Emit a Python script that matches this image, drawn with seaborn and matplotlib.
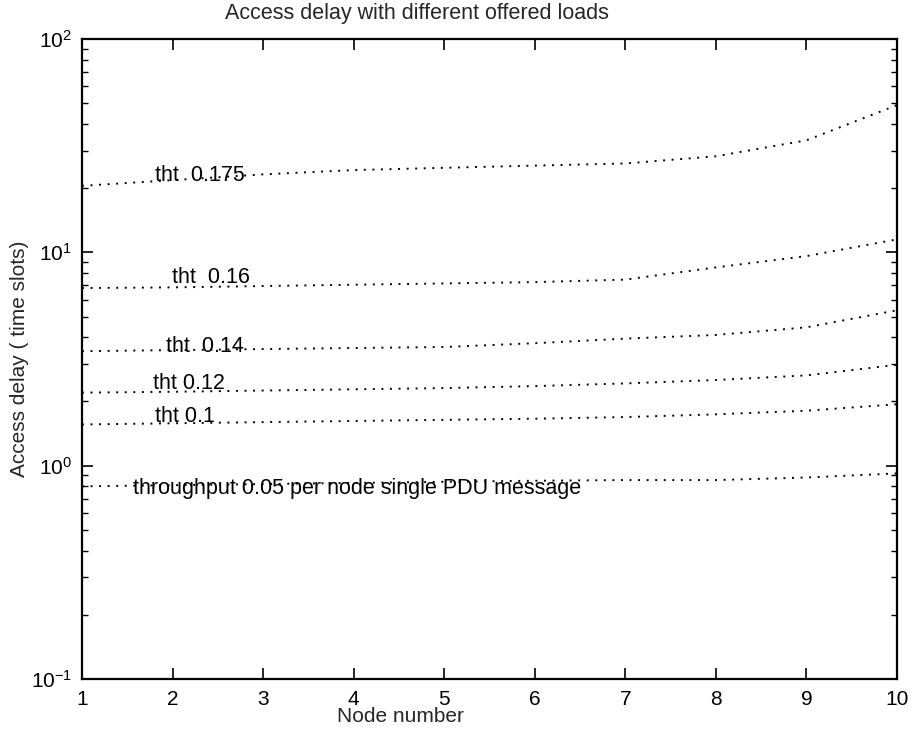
import numpy as np
import pandas as pd
import matplotlib
matplotlib.use('Agg')
import matplotlib.pyplot as plt
import matplotlib.ticker as ticker
import seaborn as sns

nodes = [1, 2, 3, 4, 5, 6, 7, 8, 9, 10]

# access delay (time slots) per offered load
delay_0175 = [20.5, 21.8, 23.2, 24.3, 24.9, 25.5, 26.1, 28.2, 33.5, 49.0]
delay_016 = [6.8, 6.85, 6.95, 7.05, 7.15, 7.25, 7.45, 8.5, 9.6, 11.5]
delay_014 = [3.44, 3.48, 3.52, 3.56, 3.6, 3.75, 3.94, 4.1, 4.45, 5.35]
delay_012 = [2.2, 2.22, 2.25, 2.28, 2.31, 2.36, 2.43, 2.52, 2.65, 2.97]
delay_010 = [1.56, 1.58, 1.6, 1.62, 1.64, 1.66, 1.69, 1.74, 1.81, 1.94]
delay_005 = [0.80, 0.81, 0.82, 0.83, 0.84, 0.85, 0.856, 0.856, 0.88, 0.92]

labels = ['tht  0.175', 'tht  0.16', 'tht  0.14', 'tht 0.12', 'tht 0.1',
          'throughput 0.05 per node single PDU message']
series = [delay_0175, delay_016, delay_014, delay_012, delay_010, delay_005]

# where the in-plot labels sit (x, y in data coords)
label_pos = [(1.81, 23.0), (1.99, 7.6), (1.93, 3.63), (1.78, 2.42), (1.81, 1.70), (1.56, 0.785)]

rows = []
for lab, vals in zip(labels, series):
    for n, v in zip(nodes, vals):
        rows.append({'node': n, 'delay': v, 'load': lab})
df = pd.DataFrame(rows)

sns.set_style('ticks')
plt.rcParams['font.family'] = ['Liberation Sans', 'DejaVu Sans']
plt.rcParams['mathtext.fontset'] = 'custom'
plt.rcParams['mathtext.rm'] = 'Liberation Sans'

fig = plt.figure(figsize=(9.11, 7.30), dpi=100)
ax = fig.add_axes([82 / 911, 1 - 679 / 730, 815 / 911, 640 / 730])

for lab in labels:
    sub = df[df['load'] == lab]
    sns.lineplot(data=sub, x='node', y='delay', ax=ax, color='black',
                 linewidth=1.4, linestyle=(0, (1, 3.4)), legend=False)

for (tx, ty), lab in zip(label_pos, labels):
    ax.text(tx, ty, lab, fontsize=15.5, ha='left', va='center', color='black')

ax.set_yscale('log')
ax.set_xlim(1, 10)
ax.set_ylim(0.1, 100)
ax.xaxis.set_major_locator(ticker.MultipleLocator(1))
ax.yaxis.set_major_locator(ticker.LogLocator(base=10, numticks=10))
ax.yaxis.set_minor_locator(ticker.LogLocator(base=10, subs=np.arange(2, 10), numticks=20))
ax.yaxis.set_minor_formatter(ticker.NullFormatter())

ax.tick_params(which='both', direction='in', top=True, right=True, colors='black')
ax.tick_params(which='major', length=8, width=1.2, labelsize=15)
ax.tick_params(which='minor', length=4, width=1.0)
ax.tick_params(axis='x', pad=8)
ax.tick_params(axis='y', pad=7)
for sp in ax.spines.values():
    sp.set_linewidth(1.6)
    sp.set_color('black')

ax.set_xlabel('')
ax.set_ylabel('')
fig.text(400 / 911, 1 - 717 / 730, 'Node number', fontsize=15, ha='center', va='center')
fig.text(20 / 911, 1 - 359 / 730, 'Access delay ( time slots)', fontsize=15,
         ha='center', va='center', rotation=90)
fig.text(417 / 911, 1 - 13 / 730, 'Access delay with different offered loads',
         fontsize=15.5, ha='center', va='center')

fig.savefig('out.png', dpi=100)
